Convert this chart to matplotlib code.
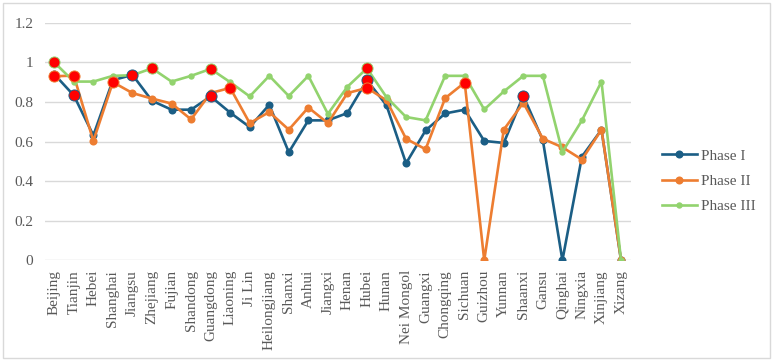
import matplotlib
matplotlib.use("Agg")
import matplotlib.pyplot as plt
from matplotlib.patches import Rectangle

# Data
provinces = [
    "Beijing", "Tianjin", "Hebei", "Shanghai", "Jiangsu", "Zhejiang", "Fujian",
    "Shandong", "Guangdong", "Liaoning", "Ji Lin", "Heilongjiang", "Shanxi",
    "Anhui", "Jiangxi", "Henan", "Hubei", "Hunan", "Nei Mongol", "Guangxi",
    "Chongqing", "Sichuan", "Guizhou", "Yunnan", "Shaanxi", "Gansu", "Qinghai",
    "Ningxia", "Xinjiang", "Xizang",
]
phase1 = [0.94, 0.833, 0.631, 0.91, 0.937, 0.806, 0.761, 0.761, 0.828, 0.746,
          0.673, 0.786, 0.546, 0.707, 0.707, 0.744, 0.91, 0.783, 0.49, 0.656,
          0.742, 0.761, 0.603, 0.593, 0.831, 0.606, 0.0, 0.524, 0.66, 0.0]
phase2 = [0.93, 0.933, 0.603, 0.90, 0.845, 0.817, 0.792, 0.712, 0.845, 0.871,
          0.693, 0.749, 0.66, 0.772, 0.693, 0.845, 0.871, 0.808, 0.614, 0.561,
          0.819, 0.898, 0.0, 0.66, 0.796, 0.614, 0.571, 0.509, 0.66, 0.0]
phase3 = [1.0, 0.903, 0.903, 0.932, 0.935, 0.97, 0.903, 0.932, 0.967, 0.90,
          0.828, 0.932, 0.83, 0.932, 0.74, 0.877, 0.97, 0.824, 0.724, 0.707,
          0.932, 0.932, 0.762, 0.853, 0.932, 0.932, 0.547, 0.707, 0.903, 0.0]

# highlighted (red) points: province index per phase
red_phase1 = [1, 4, 8, 16, 24]
red_phase2 = [0, 1, 3, 9, 16, 21]
red_phase3 = [0, 5, 8, 16]

series = [
    ("Phase I", phase1, "#1b5e85", 5.8, red_phase1),
    ("Phase II", phase2, "#ed7d31", 5.8, red_phase2),
    ("Phase III", phase3, "#92d36e", 4.6, red_phase3),
]

plt.rcParams["font.family"] = ["Liberation Serif", "DejaVu Serif"]
text_color = "#595959"

fig = plt.figure(figsize=(7.74, 3.62), dpi=100)
ax = fig.add_axes([0.0575, 0.281, 0.7575, 0.656])

x = list(range(len(provinces)))
handles = []
for name, vals, color, ms, reds in series:
    h, = ax.plot(x, vals, color=color, linewidth=1.9, marker="o",
                 markersize=ms, markeredgewidth=0, label=name, zorder=3)
    handles.append(h)

for name, vals, color, ms, reds in series:
    ax.plot([x[i] for i in reds], [vals[i] for i in reds], linestyle="none",
            marker="o", markersize=8, markerfacecolor="#ff0000",
            markeredgecolor=color, markeredgewidth=0.7, zorder=4)

ax.set_xlim(-0.5, len(provinces) - 0.5)
ax.set_ylim(0, 1.2)
ax.set_yticks([0, 0.2, 0.4, 0.6, 0.8, 1.0, 1.2])
ax.set_yticklabels(["0", "0.2", "0.4", "0.6", "0.8", "1", "1.2"])
ax.set_xticks(x)
ax.set_xticklabels(provinces, rotation=90)
ax.tick_params(axis="both", length=0, labelsize=11, colors=text_color)
ax.tick_params(axis="x", pad=7)
ax.tick_params(axis="y", pad=8)
ax.grid(axis="y", color="#d9d9d9", linewidth=1)
ax.set_axisbelow(True)
for spine in ax.spines.values():
    spine.set_visible(False)

leg = fig.legend(handles=handles, loc="center left",
                 bbox_to_anchor=(648 / 774, 1 - 181 / 362), frameon=False,
                 fontsize=11, handlelength=2.3, handletextpad=0.3,
                 labelspacing=0.75)
for t in leg.get_texts():
    t.set_color(text_color)

fig.patches.append(Rectangle((3 / 774, 4 / 362), 767 / 774, 355 / 362,
                             transform=fig.transFigure, fill=False,
                             edgecolor="#d9d9d9", linewidth=1))

fig.savefig("out.png", dpi=100, facecolor="white")
